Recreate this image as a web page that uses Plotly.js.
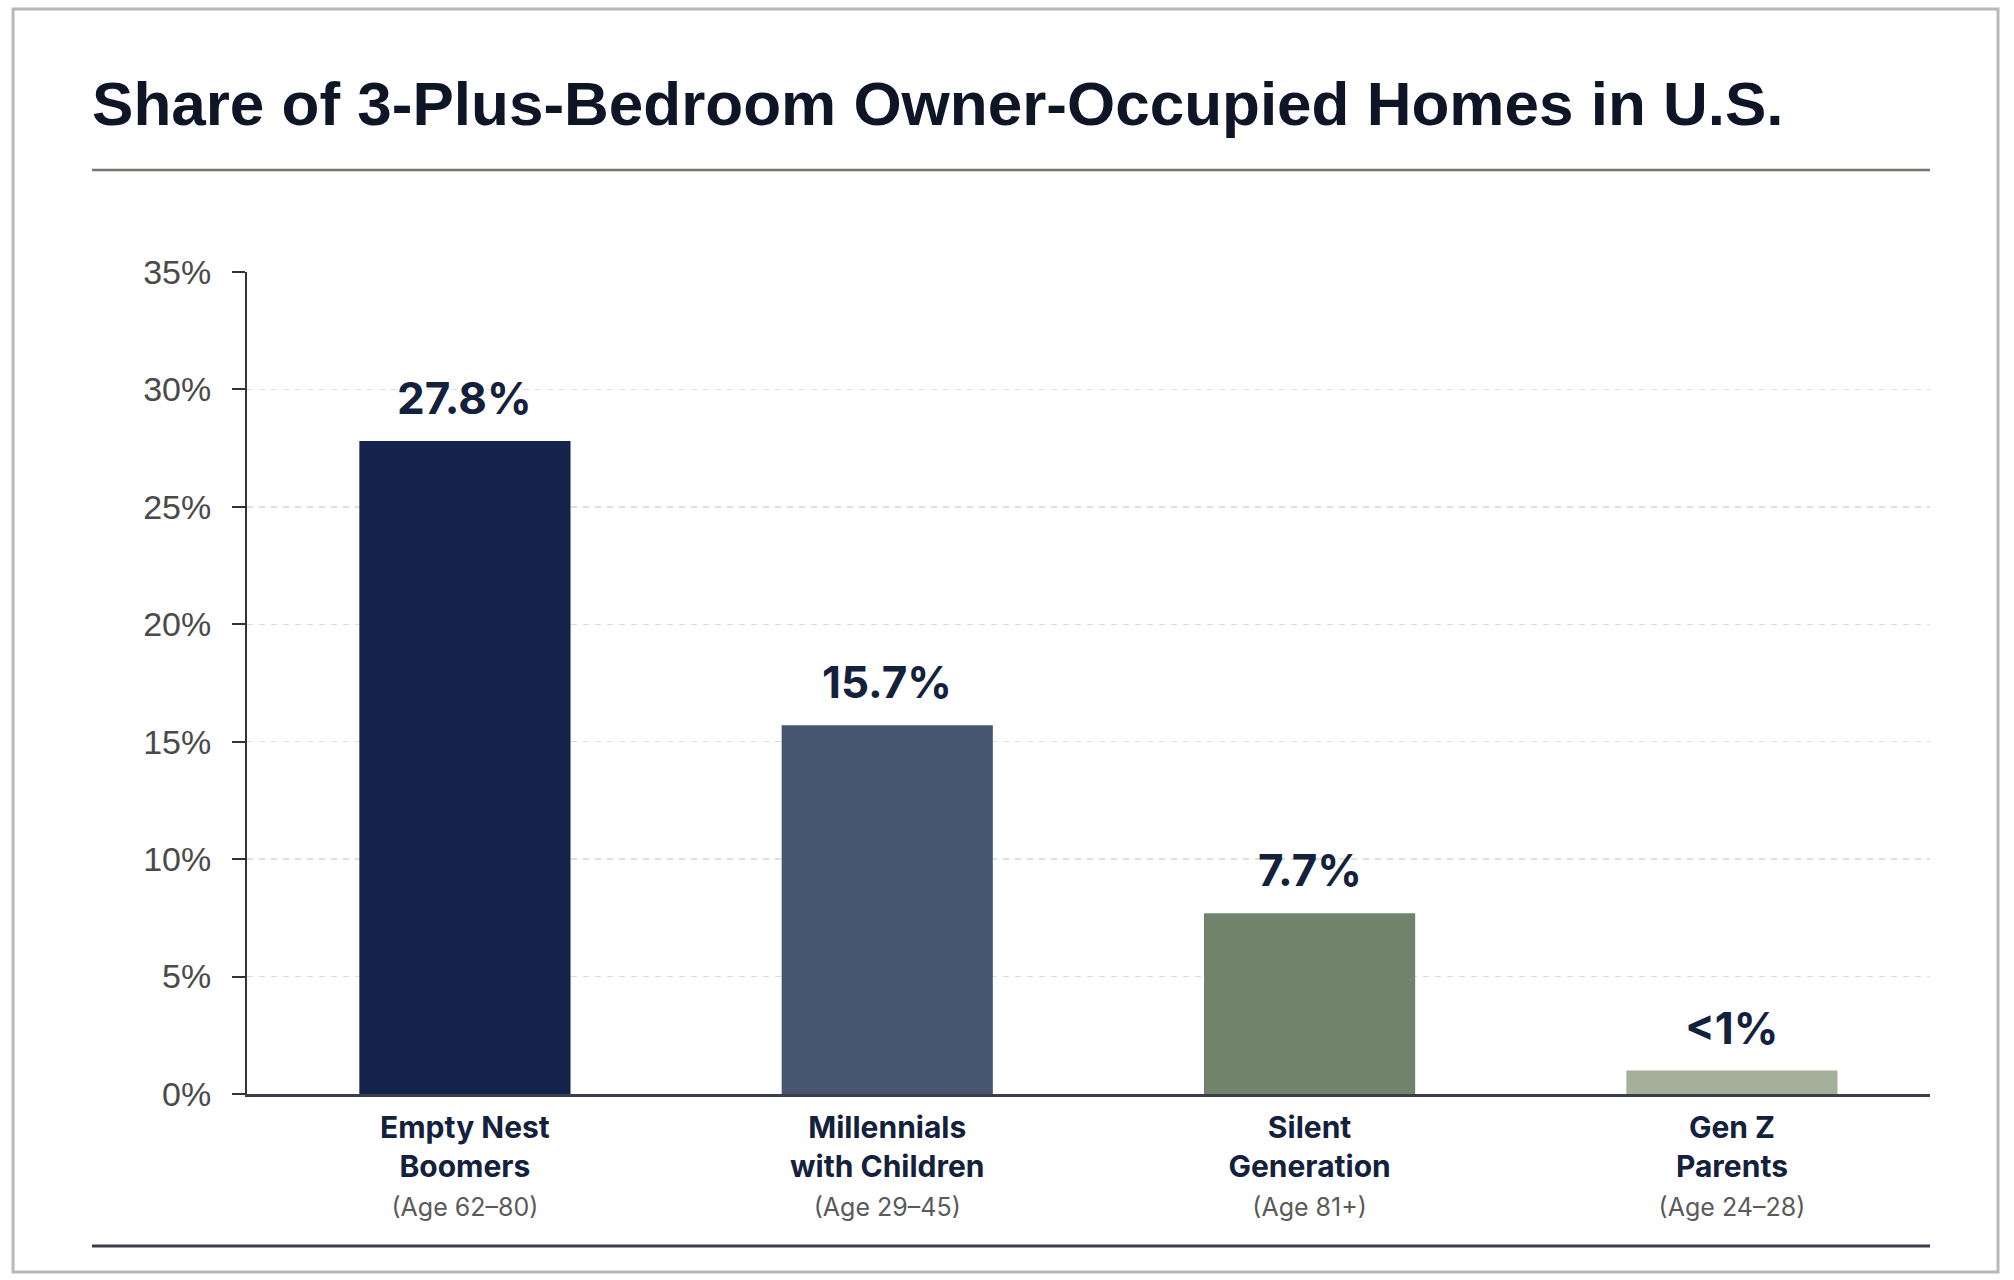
<!DOCTYPE html>
<html>
<head>
<meta charset="utf-8">
<script src="https://cdn.plot.ly/plotly-3.0.1.min.js"></script>
<style>
  html, body { margin: 0; padding: 0; background: #ffffff; }
  #chart { width: 2014px; height: 1280px; }
</style>
</head>
<body>
<div id="chart"></div>
<script>
// values
var groups = ["Empty Nest Boomers", "Millennials with Children", "Silent Generation", "Gen Z Parents"];
var nameLines = [["Empty Nest", "Boomers"], ["Millennials", "with Children"], ["Silent", "Generation"], ["Gen Z", "Parents"]];
var ages = ["(Age 62–80)", "(Age 29–45)", "(Age 81+)", "(Age 24–28)"];
var shares = [27.8, 15.7, 7.7, 1.0];
var shareLabels = ["27.8%", "15.7%", "7.7%", "<1%"];
var barColors = ["#13234b", "#475670", "#72836c", "#a5b09b"];
var yTicks = [0, 5, 10, 15, 20, 25, 30, 35];

var navy = "#14213d";

var tickText = groups.map(function (g, i) {
  return "<b>" + nameLines[i][0] + "</b><br><b>" + nameLines[i][1] + "</b><br>" +
    "<span style='font-size:25px;color:#5a5a5a;font-weight:400'>" + ages[i] + "</span>";
});

var data = [{
  type: "bar",
  x: groups,
  y: shares,
  width: 0.5,
  marker: { color: barColors },
  hoverinfo: "skip"
}];

var annotations = groups.map(function (g, i) {
  return {
    x: g, y: shares[i],
    xref: "x", yref: "y",
    text: "<b>" + shareLabels[i] + "</b>",
    showarrow: false,
    yanchor: "bottom",
    yshift: 14,
    font: { family: "Inter, Roboto, sans-serif", size: 44, color: navy }
  };
});

// page furniture: outer frame, rule under title, closing rule
var shapes = [
  { type: "rect", xref: "paper", yref: "paper", x0: -0.139, x1: 1.0404, y0: -0.2165, y1: 1.320,
    line: { color: "#b8b8b8", width: 3 }, layer: "below" },
  { type: "line", xref: "paper", yref: "paper", x0: -0.0921, x1: 1.0, y0: 1.124, y1: 1.124,
    line: { color: "#6f7a6c", width: 2.5 } },
  { type: "line", xref: "paper", yref: "paper", x0: -0.0921, x1: 1.0, y0: -0.1849, y1: -0.1849,
    line: { color: "#3a3f4a", width: 3 } }
];

var layout = {
  width: 2014, height: 1280,
  margin: { t: 272, r: 84, l: 247, b: 186 },
  paper_bgcolor: "#ffffff",
  plot_bgcolor: "#ffffff",
  showlegend: false,
  title: {
    text: "<b>Share of 3-Plus-Bedroom Owner-Occupied Homes in U.S.</b>",
    xref: "container", yref: "container",
    x: 0.0457, xanchor: "left",
    y: 0.9195, yanchor: "middle",
    font: { family: "Liberation Sans, Arial, sans-serif", size: 62, color: "#0d1526" }
  },
  xaxis: {
    type: "category",
    range: [-0.516, 3.469],
    tickvals: groups,
    ticktext: tickText,
    showline: true, linecolor: "#3a3f4a", linewidth: 2.5,
    showgrid: false, zeroline: false,
    ticks: "",
    ticklabelstandoff: 5,
    tickfont: { family: "Inter, Roboto, sans-serif", size: 30, color: navy }
  },
  yaxis: {
    range: [0, 35],
    tickvals: yTicks,
    ticktext: yTicks.map(function (v) { return v + "%"; }),
    showline: true, linecolor: "#333333", linewidth: 2,
    ticks: "outside", ticklen: 13, tickwidth: 2, tickcolor: "#333333",
    ticklabelstandoff: 14,
    showgrid: true, gridcolor: "#dedede", gridwidth: 1.5, griddash: "6px,6px",
    zeroline: false,
    tickfont: { family: "Liberation Sans, Arial, sans-serif", size: 34, color: "#4a4a4a" }
  },
  annotations: annotations,
  shapes: shapes
};

Plotly.newPlot("chart", data, layout, { displayModeBar: false, staticPlot: true });
</script>
</body>
</html>
